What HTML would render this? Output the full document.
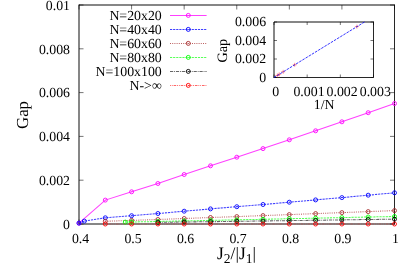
<!DOCTYPE html>
<html><head><meta charset="utf-8"><style>
html,body{margin:0;padding:0;background:#fff;}
body{width:415px;height:268px;overflow:hidden;position:relative;}
text{font-family:"Liberation Serif",serif;fill:#000;text-rendering:geometricPrecision;}
.t{font-size:13.8px;}
.l{font-size:13.85px;}
.b{font-size:16.8px;}
.x{font-size:17.4px;}
</style></head><body>
<svg width="415" height="268" viewBox="0 0 415 268" style="position:absolute;left:0;top:0">
<rect width="415" height="268" fill="#fff"/>
<path d="M79.0,5.0H394.5M79.0,4.5V224.5M79.0,224.0H394.5" fill="none" stroke="#000" stroke-width="0.95"/>
<path d="M394.5,4.5V224.5" fill="none" stroke="#000" stroke-width="0.85"/>
<path d="M79.00,224.0v-4.5M79.00,5.0v4.5" stroke="#000" stroke-width="0.55"/>
<path d="M131.58,224.0v-4.5M131.58,5.0v4.5" stroke="#000" stroke-width="0.55"/>
<path d="M184.17,224.0v-4.5M184.17,5.0v4.5" stroke="#000" stroke-width="0.55"/>
<path d="M236.75,224.0v-4.5M236.75,5.0v4.5" stroke="#000" stroke-width="0.55"/>
<path d="M289.33,224.0v-4.5M289.33,5.0v4.5" stroke="#000" stroke-width="0.55"/>
<path d="M341.92,224.0v-4.5M341.92,5.0v4.5" stroke="#000" stroke-width="0.55"/>
<path d="M394.50,224.0v-4.5M394.50,5.0v4.5" stroke="#000" stroke-width="0.55"/>
<path d="M79.0,224.00h4.5M394.5,224.00h-4.5" stroke="#000" stroke-width="0.55"/>
<path d="M79.0,180.20h4.5M394.5,180.20h-4.5" stroke="#000" stroke-width="0.55"/>
<path d="M79.0,136.40h4.5M394.5,136.40h-4.5" stroke="#000" stroke-width="0.55"/>
<path d="M79.0,92.60h4.5M394.5,92.60h-4.5" stroke="#000" stroke-width="0.55"/>
<path d="M79.0,48.80h4.5M394.5,48.80h-4.5" stroke="#000" stroke-width="0.55"/>
<path d="M79.0,5.00h4.5M394.5,5.00h-4.5" stroke="#000" stroke-width="0.55"/>
<polyline fill="none" stroke="#ff00ff" stroke-opacity="0.75" stroke-width="1.05" points="79.0,223.2 105.3,200.1 131.6,191.8 157.9,183.5 184.2,174.5 210.5,165.8 236.8,157.2 263.0,148.6 289.3,139.8 315.6,130.8 341.9,121.8 368.2,112.7 394.5,103.5"/>
<circle cx="79.0" cy="223.2" r="2.0" fill="none" stroke="#ff00ff" stroke-width="0.9"/>
<circle cx="79.0" cy="223.2" r="0.5" fill="#ff00ff" fill-opacity="0.7"/>
<circle cx="105.3" cy="200.1" r="2.0" fill="none" stroke="#ff00ff" stroke-width="0.9"/>
<circle cx="105.3" cy="200.1" r="0.5" fill="#ff00ff" fill-opacity="0.7"/>
<circle cx="131.6" cy="191.8" r="2.0" fill="none" stroke="#ff00ff" stroke-width="0.9"/>
<circle cx="131.6" cy="191.8" r="0.5" fill="#ff00ff" fill-opacity="0.7"/>
<circle cx="157.9" cy="183.5" r="2.0" fill="none" stroke="#ff00ff" stroke-width="0.9"/>
<circle cx="157.9" cy="183.5" r="0.5" fill="#ff00ff" fill-opacity="0.7"/>
<circle cx="184.2" cy="174.5" r="2.0" fill="none" stroke="#ff00ff" stroke-width="0.9"/>
<circle cx="184.2" cy="174.5" r="0.5" fill="#ff00ff" fill-opacity="0.7"/>
<circle cx="210.5" cy="165.8" r="2.0" fill="none" stroke="#ff00ff" stroke-width="0.9"/>
<circle cx="210.5" cy="165.8" r="0.5" fill="#ff00ff" fill-opacity="0.7"/>
<circle cx="236.8" cy="157.2" r="2.0" fill="none" stroke="#ff00ff" stroke-width="0.9"/>
<circle cx="236.8" cy="157.2" r="0.5" fill="#ff00ff" fill-opacity="0.7"/>
<circle cx="263.0" cy="148.6" r="2.0" fill="none" stroke="#ff00ff" stroke-width="0.9"/>
<circle cx="263.0" cy="148.6" r="0.5" fill="#ff00ff" fill-opacity="0.7"/>
<circle cx="289.3" cy="139.8" r="2.0" fill="none" stroke="#ff00ff" stroke-width="0.9"/>
<circle cx="289.3" cy="139.8" r="0.5" fill="#ff00ff" fill-opacity="0.7"/>
<circle cx="315.6" cy="130.8" r="2.0" fill="none" stroke="#ff00ff" stroke-width="0.9"/>
<circle cx="315.6" cy="130.8" r="0.5" fill="#ff00ff" fill-opacity="0.7"/>
<circle cx="341.9" cy="121.8" r="2.0" fill="none" stroke="#ff00ff" stroke-width="0.9"/>
<circle cx="341.9" cy="121.8" r="0.5" fill="#ff00ff" fill-opacity="0.7"/>
<circle cx="368.2" cy="112.7" r="2.0" fill="none" stroke="#ff00ff" stroke-width="0.9"/>
<circle cx="368.2" cy="112.7" r="0.5" fill="#ff00ff" fill-opacity="0.7"/>
<circle cx="394.5" cy="103.5" r="2.0" fill="none" stroke="#ff00ff" stroke-width="0.9"/>
<circle cx="394.5" cy="103.5" r="0.5" fill="#ff00ff" fill-opacity="0.7"/>
<polyline fill="none" stroke="#0000ff" stroke-opacity="0.75" stroke-width="1.05" stroke-dasharray="2.2,0.9" points="79.0,223.1 84.3,221.1 105.3,217.8 131.6,215.7 157.9,213.5 184.2,211.2 210.5,208.9 236.8,206.7 263.0,204.5 289.3,202.2 315.6,199.9 341.9,197.6 368.2,195.2 394.5,192.8"/>
<circle cx="79.0" cy="223.1" r="2.0" fill="none" stroke="#0000ff" stroke-width="0.9"/>
<circle cx="79.0" cy="223.1" r="0.5" fill="#0000ff" fill-opacity="0.7"/>
<circle cx="84.3" cy="221.1" r="2.0" fill="none" stroke="#0000ff" stroke-width="0.9"/>
<circle cx="84.3" cy="221.1" r="0.5" fill="#0000ff" fill-opacity="0.7"/>
<circle cx="105.3" cy="217.8" r="2.0" fill="none" stroke="#0000ff" stroke-width="0.9"/>
<circle cx="105.3" cy="217.8" r="0.5" fill="#0000ff" fill-opacity="0.7"/>
<circle cx="131.6" cy="215.7" r="2.0" fill="none" stroke="#0000ff" stroke-width="0.9"/>
<circle cx="131.6" cy="215.7" r="0.5" fill="#0000ff" fill-opacity="0.7"/>
<circle cx="157.9" cy="213.5" r="2.0" fill="none" stroke="#0000ff" stroke-width="0.9"/>
<circle cx="157.9" cy="213.5" r="0.5" fill="#0000ff" fill-opacity="0.7"/>
<circle cx="184.2" cy="211.2" r="2.0" fill="none" stroke="#0000ff" stroke-width="0.9"/>
<circle cx="184.2" cy="211.2" r="0.5" fill="#0000ff" fill-opacity="0.7"/>
<circle cx="210.5" cy="208.9" r="2.0" fill="none" stroke="#0000ff" stroke-width="0.9"/>
<circle cx="210.5" cy="208.9" r="0.5" fill="#0000ff" fill-opacity="0.7"/>
<circle cx="236.8" cy="206.7" r="2.0" fill="none" stroke="#0000ff" stroke-width="0.9"/>
<circle cx="236.8" cy="206.7" r="0.5" fill="#0000ff" fill-opacity="0.7"/>
<circle cx="263.0" cy="204.5" r="2.0" fill="none" stroke="#0000ff" stroke-width="0.9"/>
<circle cx="263.0" cy="204.5" r="0.5" fill="#0000ff" fill-opacity="0.7"/>
<circle cx="289.3" cy="202.2" r="2.0" fill="none" stroke="#0000ff" stroke-width="0.9"/>
<circle cx="289.3" cy="202.2" r="0.5" fill="#0000ff" fill-opacity="0.7"/>
<circle cx="315.6" cy="199.9" r="2.0" fill="none" stroke="#0000ff" stroke-width="0.9"/>
<circle cx="315.6" cy="199.9" r="0.5" fill="#0000ff" fill-opacity="0.7"/>
<circle cx="341.9" cy="197.6" r="2.0" fill="none" stroke="#0000ff" stroke-width="0.9"/>
<circle cx="341.9" cy="197.6" r="0.5" fill="#0000ff" fill-opacity="0.7"/>
<circle cx="368.2" cy="195.2" r="2.0" fill="none" stroke="#0000ff" stroke-width="0.9"/>
<circle cx="368.2" cy="195.2" r="0.5" fill="#0000ff" fill-opacity="0.7"/>
<circle cx="394.5" cy="192.8" r="2.0" fill="none" stroke="#0000ff" stroke-width="0.9"/>
<circle cx="394.5" cy="192.8" r="0.5" fill="#0000ff" fill-opacity="0.7"/>
<polyline fill="none" stroke="#a52a2a" stroke-opacity="0.75" stroke-width="1.05" stroke-dasharray="1,1.2" points="105.3,221.3 131.6,220.4 157.9,219.5 184.2,218.5 210.5,217.5 236.8,216.6 263.0,215.6 289.3,214.6 315.6,213.6 341.9,212.6 368.2,211.6 394.5,210.6"/>
<circle cx="105.3" cy="221.3" r="2.0" fill="none" stroke="#a52a2a" stroke-width="0.9"/>
<circle cx="105.3" cy="221.3" r="0.5" fill="#a52a2a" fill-opacity="0.7"/>
<circle cx="131.6" cy="220.4" r="2.0" fill="none" stroke="#a52a2a" stroke-width="0.9"/>
<circle cx="131.6" cy="220.4" r="0.5" fill="#a52a2a" fill-opacity="0.7"/>
<circle cx="157.9" cy="219.5" r="2.0" fill="none" stroke="#a52a2a" stroke-width="0.9"/>
<circle cx="157.9" cy="219.5" r="0.5" fill="#a52a2a" fill-opacity="0.7"/>
<circle cx="184.2" cy="218.5" r="2.0" fill="none" stroke="#a52a2a" stroke-width="0.9"/>
<circle cx="184.2" cy="218.5" r="0.5" fill="#a52a2a" fill-opacity="0.7"/>
<circle cx="210.5" cy="217.5" r="2.0" fill="none" stroke="#a52a2a" stroke-width="0.9"/>
<circle cx="210.5" cy="217.5" r="0.5" fill="#a52a2a" fill-opacity="0.7"/>
<circle cx="236.8" cy="216.6" r="2.0" fill="none" stroke="#a52a2a" stroke-width="0.9"/>
<circle cx="236.8" cy="216.6" r="0.5" fill="#a52a2a" fill-opacity="0.7"/>
<circle cx="263.0" cy="215.6" r="2.0" fill="none" stroke="#a52a2a" stroke-width="0.9"/>
<circle cx="263.0" cy="215.6" r="0.5" fill="#a52a2a" fill-opacity="0.7"/>
<circle cx="289.3" cy="214.6" r="2.0" fill="none" stroke="#a52a2a" stroke-width="0.9"/>
<circle cx="289.3" cy="214.6" r="0.5" fill="#a52a2a" fill-opacity="0.7"/>
<circle cx="315.6" cy="213.6" r="2.0" fill="none" stroke="#a52a2a" stroke-width="0.9"/>
<circle cx="315.6" cy="213.6" r="0.5" fill="#a52a2a" fill-opacity="0.7"/>
<circle cx="341.9" cy="212.6" r="2.0" fill="none" stroke="#a52a2a" stroke-width="0.9"/>
<circle cx="341.9" cy="212.6" r="0.5" fill="#a52a2a" fill-opacity="0.7"/>
<circle cx="368.2" cy="211.6" r="2.0" fill="none" stroke="#a52a2a" stroke-width="0.9"/>
<circle cx="368.2" cy="211.6" r="0.5" fill="#a52a2a" fill-opacity="0.7"/>
<circle cx="394.5" cy="210.6" r="2.0" fill="none" stroke="#a52a2a" stroke-width="0.9"/>
<circle cx="394.5" cy="210.6" r="0.5" fill="#a52a2a" fill-opacity="0.7"/>
<polyline fill="none" stroke="#00ff00" stroke-opacity="0.65" stroke-width="1.05" stroke-dasharray="2.2,0.9" points="125.3,222.1 131.6,222.0 157.9,221.5 184.2,220.9 210.5,220.4 236.8,219.8 263.0,219.3 289.3,218.7 315.6,218.2 341.9,217.6 368.2,217.0 394.5,216.5"/>
<circle cx="125.3" cy="222.1" r="2.0" fill="none" stroke="#00ff00" stroke-width="0.9"/>
<circle cx="125.3" cy="222.1" r="0.5" fill="#00ff00" fill-opacity="0.7"/>
<circle cx="131.6" cy="222.0" r="2.0" fill="none" stroke="#00ff00" stroke-width="0.9"/>
<circle cx="131.6" cy="222.0" r="0.5" fill="#00ff00" fill-opacity="0.7"/>
<circle cx="157.9" cy="221.5" r="2.0" fill="none" stroke="#00ff00" stroke-width="0.9"/>
<circle cx="157.9" cy="221.5" r="0.5" fill="#00ff00" fill-opacity="0.7"/>
<circle cx="184.2" cy="220.9" r="2.0" fill="none" stroke="#00ff00" stroke-width="0.9"/>
<circle cx="184.2" cy="220.9" r="0.5" fill="#00ff00" fill-opacity="0.7"/>
<circle cx="210.5" cy="220.4" r="2.0" fill="none" stroke="#00ff00" stroke-width="0.9"/>
<circle cx="210.5" cy="220.4" r="0.5" fill="#00ff00" fill-opacity="0.7"/>
<circle cx="236.8" cy="219.8" r="2.0" fill="none" stroke="#00ff00" stroke-width="0.9"/>
<circle cx="236.8" cy="219.8" r="0.5" fill="#00ff00" fill-opacity="0.7"/>
<circle cx="263.0" cy="219.3" r="2.0" fill="none" stroke="#00ff00" stroke-width="0.9"/>
<circle cx="263.0" cy="219.3" r="0.5" fill="#00ff00" fill-opacity="0.7"/>
<circle cx="289.3" cy="218.7" r="2.0" fill="none" stroke="#00ff00" stroke-width="0.9"/>
<circle cx="289.3" cy="218.7" r="0.5" fill="#00ff00" fill-opacity="0.7"/>
<circle cx="315.6" cy="218.2" r="2.0" fill="none" stroke="#00ff00" stroke-width="0.9"/>
<circle cx="315.6" cy="218.2" r="0.5" fill="#00ff00" fill-opacity="0.7"/>
<circle cx="341.9" cy="217.6" r="2.0" fill="none" stroke="#00ff00" stroke-width="0.9"/>
<circle cx="341.9" cy="217.6" r="0.5" fill="#00ff00" fill-opacity="0.7"/>
<circle cx="368.2" cy="217.0" r="2.0" fill="none" stroke="#00ff00" stroke-width="0.9"/>
<circle cx="368.2" cy="217.0" r="0.5" fill="#00ff00" fill-opacity="0.7"/>
<circle cx="394.5" cy="216.5" r="2.0" fill="none" stroke="#00ff00" stroke-width="0.9"/>
<circle cx="394.5" cy="216.5" r="0.5" fill="#00ff00" fill-opacity="0.7"/>
<polyline fill="none" stroke="#000000" stroke-opacity="0.6" stroke-width="1.05" stroke-dasharray="3.2,0.9,0.9,0.9" points="157.9,222.4 184.2,222.0 210.5,221.7 236.8,221.3 263.0,221.0 289.3,220.6 315.6,220.3 341.9,219.9 368.2,219.5 394.5,219.2"/>
<circle cx="157.9" cy="222.4" r="2.0" fill="none" stroke="#000000" stroke-width="0.9"/>
<circle cx="157.9" cy="222.4" r="0.5" fill="#000000" fill-opacity="0.7"/>
<circle cx="184.2" cy="222.0" r="2.0" fill="none" stroke="#000000" stroke-width="0.9"/>
<circle cx="184.2" cy="222.0" r="0.5" fill="#000000" fill-opacity="0.7"/>
<circle cx="210.5" cy="221.7" r="2.0" fill="none" stroke="#000000" stroke-width="0.9"/>
<circle cx="210.5" cy="221.7" r="0.5" fill="#000000" fill-opacity="0.7"/>
<circle cx="236.8" cy="221.3" r="2.0" fill="none" stroke="#000000" stroke-width="0.9"/>
<circle cx="236.8" cy="221.3" r="0.5" fill="#000000" fill-opacity="0.7"/>
<circle cx="263.0" cy="221.0" r="2.0" fill="none" stroke="#000000" stroke-width="0.9"/>
<circle cx="263.0" cy="221.0" r="0.5" fill="#000000" fill-opacity="0.7"/>
<circle cx="289.3" cy="220.6" r="2.0" fill="none" stroke="#000000" stroke-width="0.9"/>
<circle cx="289.3" cy="220.6" r="0.5" fill="#000000" fill-opacity="0.7"/>
<circle cx="315.6" cy="220.3" r="2.0" fill="none" stroke="#000000" stroke-width="0.9"/>
<circle cx="315.6" cy="220.3" r="0.5" fill="#000000" fill-opacity="0.7"/>
<circle cx="341.9" cy="219.9" r="2.0" fill="none" stroke="#000000" stroke-width="0.9"/>
<circle cx="341.9" cy="219.9" r="0.5" fill="#000000" fill-opacity="0.7"/>
<circle cx="368.2" cy="219.5" r="2.0" fill="none" stroke="#000000" stroke-width="0.9"/>
<circle cx="368.2" cy="219.5" r="0.5" fill="#000000" fill-opacity="0.7"/>
<circle cx="394.5" cy="219.2" r="2.0" fill="none" stroke="#000000" stroke-width="0.9"/>
<circle cx="394.5" cy="219.2" r="0.5" fill="#000000" fill-opacity="0.7"/>
<polyline fill="none" stroke="#ff0000" stroke-opacity="0.3" stroke-width="1.05" stroke-dasharray="0.9,0.9,0.9,0.9,2.6,0.9" points="105.3,224.0 131.6,224.0 157.9,224.0 184.2,224.0 210.5,224.0 236.8,224.0 263.0,224.0 289.3,224.0 315.6,224.0 341.9,224.0 368.2,224.0 394.5,224.0"/>
<circle cx="105.3" cy="224.0" r="2.0" fill="none" stroke="#ff0000" stroke-width="0.9"/>
<circle cx="105.3" cy="224.0" r="0.5" fill="#ff0000" fill-opacity="0.7"/>
<circle cx="131.6" cy="224.0" r="2.0" fill="none" stroke="#ff0000" stroke-width="0.9"/>
<circle cx="131.6" cy="224.0" r="0.5" fill="#ff0000" fill-opacity="0.7"/>
<circle cx="157.9" cy="224.0" r="2.0" fill="none" stroke="#ff0000" stroke-width="0.9"/>
<circle cx="157.9" cy="224.0" r="0.5" fill="#ff0000" fill-opacity="0.7"/>
<circle cx="184.2" cy="224.0" r="2.0" fill="none" stroke="#ff0000" stroke-width="0.9"/>
<circle cx="184.2" cy="224.0" r="0.5" fill="#ff0000" fill-opacity="0.7"/>
<circle cx="210.5" cy="224.0" r="2.0" fill="none" stroke="#ff0000" stroke-width="0.9"/>
<circle cx="210.5" cy="224.0" r="0.5" fill="#ff0000" fill-opacity="0.7"/>
<circle cx="236.8" cy="224.0" r="2.0" fill="none" stroke="#ff0000" stroke-width="0.9"/>
<circle cx="236.8" cy="224.0" r="0.5" fill="#ff0000" fill-opacity="0.7"/>
<circle cx="263.0" cy="224.0" r="2.0" fill="none" stroke="#ff0000" stroke-width="0.9"/>
<circle cx="263.0" cy="224.0" r="0.5" fill="#ff0000" fill-opacity="0.7"/>
<circle cx="289.3" cy="224.0" r="2.0" fill="none" stroke="#ff0000" stroke-width="0.9"/>
<circle cx="289.3" cy="224.0" r="0.5" fill="#ff0000" fill-opacity="0.7"/>
<circle cx="315.6" cy="224.0" r="2.0" fill="none" stroke="#ff0000" stroke-width="0.9"/>
<circle cx="315.6" cy="224.0" r="0.5" fill="#ff0000" fill-opacity="0.7"/>
<circle cx="341.9" cy="224.0" r="2.0" fill="none" stroke="#ff0000" stroke-width="0.9"/>
<circle cx="341.9" cy="224.0" r="0.5" fill="#ff0000" fill-opacity="0.7"/>
<circle cx="368.2" cy="224.0" r="2.0" fill="none" stroke="#ff0000" stroke-width="0.9"/>
<circle cx="368.2" cy="224.0" r="0.5" fill="#ff0000" fill-opacity="0.7"/>
<circle cx="394.5" cy="224.0" r="2.0" fill="none" stroke="#ff0000" stroke-width="0.9"/>
<circle cx="394.5" cy="224.0" r="0.5" fill="#ff0000" fill-opacity="0.7"/>
<path d="M170,15.4H206.6" stroke="#ff00ff" stroke-opacity="0.75" stroke-width="1.05"/>
<circle cx="188.3" cy="15.4" r="2.0" fill="none" stroke="#ff00ff" stroke-width="0.9"/>
<circle cx="188.3" cy="15.4" r="0.5" fill="#ff00ff" fill-opacity="0.7"/>
<path d="M170,29.4H206.6" stroke="#0000ff" stroke-opacity="0.75" stroke-width="1.05" stroke-dasharray="2.2,0.9"/>
<circle cx="188.3" cy="29.4" r="2.0" fill="none" stroke="#0000ff" stroke-width="0.9"/>
<circle cx="188.3" cy="29.4" r="0.5" fill="#0000ff" fill-opacity="0.7"/>
<path d="M170,43.4H206.6" stroke="#a52a2a" stroke-opacity="0.75" stroke-width="1.05" stroke-dasharray="1,1.2"/>
<circle cx="188.3" cy="43.4" r="2.0" fill="none" stroke="#a52a2a" stroke-width="0.9"/>
<circle cx="188.3" cy="43.4" r="0.5" fill="#a52a2a" fill-opacity="0.7"/>
<path d="M170,57.4H206.6" stroke="#00ff00" stroke-opacity="0.65" stroke-width="1.05" stroke-dasharray="2.2,0.9"/>
<circle cx="188.3" cy="57.4" r="2.0" fill="none" stroke="#00ff00" stroke-width="0.9"/>
<circle cx="188.3" cy="57.4" r="0.5" fill="#00ff00" fill-opacity="0.7"/>
<path d="M170,71.4H206.6" stroke="#000000" stroke-opacity="0.6" stroke-width="1.05" stroke-dasharray="3.2,0.9,0.9,0.9"/>
<circle cx="188.3" cy="71.4" r="2.0" fill="none" stroke="#000000" stroke-width="0.9"/>
<circle cx="188.3" cy="71.4" r="0.5" fill="#000000" fill-opacity="0.7"/>
<path d="M170,85.4H206.6" stroke="#ff0000" stroke-opacity="0.6" stroke-width="1.05" stroke-dasharray="0.9,0.9,0.9,0.9,2.6,0.9"/>
<circle cx="188.3" cy="85.4" r="2.0" fill="none" stroke="#ff0000" stroke-width="0.9"/>
<circle cx="188.3" cy="85.4" r="0.5" fill="#ff0000" fill-opacity="0.7"/>
<rect x="274.0" y="22.0" width="99.5" height="55.5" fill="#fff" stroke="none"/>
<path d="M274.0,77.5V22.0H373.5" fill="none" stroke="#000" stroke-width="0.95"/>
<path d="M373.5,21.5V77.5H273.5" fill="none" stroke="#000" stroke-width="0.85"/>
<path d="M274.00,77.5v-3M274.00,22.0v3" stroke="#000" stroke-width="0.55"/>
<path d="M274.0,77.50h3M373.5,77.50h-3" stroke="#000" stroke-width="0.55"/>
<path d="M307.17,77.5v-3M307.17,22.0v3" stroke="#000" stroke-width="0.55"/>
<path d="M274.0,59.00h3M373.5,59.00h-3" stroke="#000" stroke-width="0.55"/>
<path d="M340.33,77.5v-3M340.33,22.0v3" stroke="#000" stroke-width="0.55"/>
<path d="M274.0,40.50h3M373.5,40.50h-3" stroke="#000" stroke-width="0.55"/>
<path d="M373.50,77.5v-3M373.50,22.0v3" stroke="#000" stroke-width="0.55"/>
<path d="M274.0,22.00h3M373.5,22.00h-3" stroke="#000" stroke-width="0.55"/>
<path d="M354.9,26.6h4M356.9,24.6v4" stroke="#ff0000" stroke-opacity="0.7" stroke-width="0.6"/>
<path d="M292.7,64.8h4M294.7,62.8v4" stroke="#ff0000" stroke-opacity="0.7" stroke-width="0.6"/>
<path d="M281.2,71.8h4M283.2,69.8v4" stroke="#ff0000" stroke-opacity="0.7" stroke-width="0.6"/>
<path d="M277.2,74.3h4M279.2,72.3v4" stroke="#ff0000" stroke-opacity="0.7" stroke-width="0.6"/>
<path d="M275.3,75.5h4M277.3,73.5v4" stroke="#ff0000" stroke-opacity="0.7" stroke-width="0.6"/>
<path d="M274.0,77.5L364.5,22.0" stroke="#0000ff" stroke-opacity="0.8" stroke-width="1.0" stroke-dasharray="2.6,1.1"/>
<defs><filter id="f" x="-5%" y="-5%" width="110%" height="110%"><feGaussianBlur stdDeviation="0.25"/></filter></defs>
<g filter="url(#f)">
<text x="161.8" y="19.8" text-anchor="end" class="l">N=20x20</text>
<text x="161.8" y="33.8" text-anchor="end" class="l">N=40x40</text>
<text x="161.8" y="47.8" text-anchor="end" class="l">N=60x60</text>
<text x="161.8" y="61.8" text-anchor="end" class="l">N=80x80</text>
<text x="161.8" y="75.8" text-anchor="end" class="l">N=100x100</text>
<text x="161.8" y="89.8" text-anchor="end" class="l">N-&gt;∞</text>
<text x="70" y="228.7" text-anchor="end" class="t">0</text>
<text x="70" y="184.9" text-anchor="end" class="t">0.002</text>
<text x="70" y="141.1" text-anchor="end" class="t">0.004</text>
<text x="70" y="97.3" text-anchor="end" class="t">0.006</text>
<text x="70" y="53.5" text-anchor="end" class="t">0.008</text>
<text x="70" y="9.7" text-anchor="end" class="t">0.01</text>
<text x="80.6" y="243" text-anchor="middle" class="t">0.4</text>
<text x="133.1" y="243" text-anchor="middle" class="t">0.5</text>
<text x="185.5" y="243" text-anchor="middle" class="t">0.6</text>
<text x="238.0" y="243" text-anchor="middle" class="t">0.7</text>
<text x="290.5" y="243" text-anchor="middle" class="t">0.8</text>
<text x="342.9" y="243" text-anchor="middle" class="t">0.9</text>
<text x="395.4" y="243" text-anchor="middle" class="t">1</text>
<text transform="translate(27.5,115) rotate(-90)" text-anchor="middle" class="b">Gap</text>
<text x="236.5" y="259.3" text-anchor="middle" class="x">J<tspan dy="4" font-size="13.5">2</tspan><tspan dy="-4">/|J</tspan><tspan dy="4" font-size="13.5">1</tspan><tspan dy="-4">|</tspan></text>
<text x="266.1" y="81.7" text-anchor="end" class="l">0</text>
<text x="275.8" y="96.1" text-anchor="middle" class="l">0</text>
<text x="266.1" y="63.2" text-anchor="end" class="l">0.002</text>
<text x="309.0" y="96.1" text-anchor="middle" class="l">0.001</text>
<text x="266.1" y="44.7" text-anchor="end" class="l">0.004</text>
<text x="342.1" y="96.1" text-anchor="middle" class="l">0.002</text>
<text x="266.1" y="26.2" text-anchor="end" class="l">0.006</text>
<text x="375.3" y="96.1" text-anchor="middle" class="l">0.003</text>
<text transform="translate(227.3,50.7) rotate(-90)" text-anchor="middle" style="font-size:14.3px">Gap</text>
<text x="324.2" y="108.8" text-anchor="middle" class="l">1/N</text>
</g>
</svg>
</body></html>
